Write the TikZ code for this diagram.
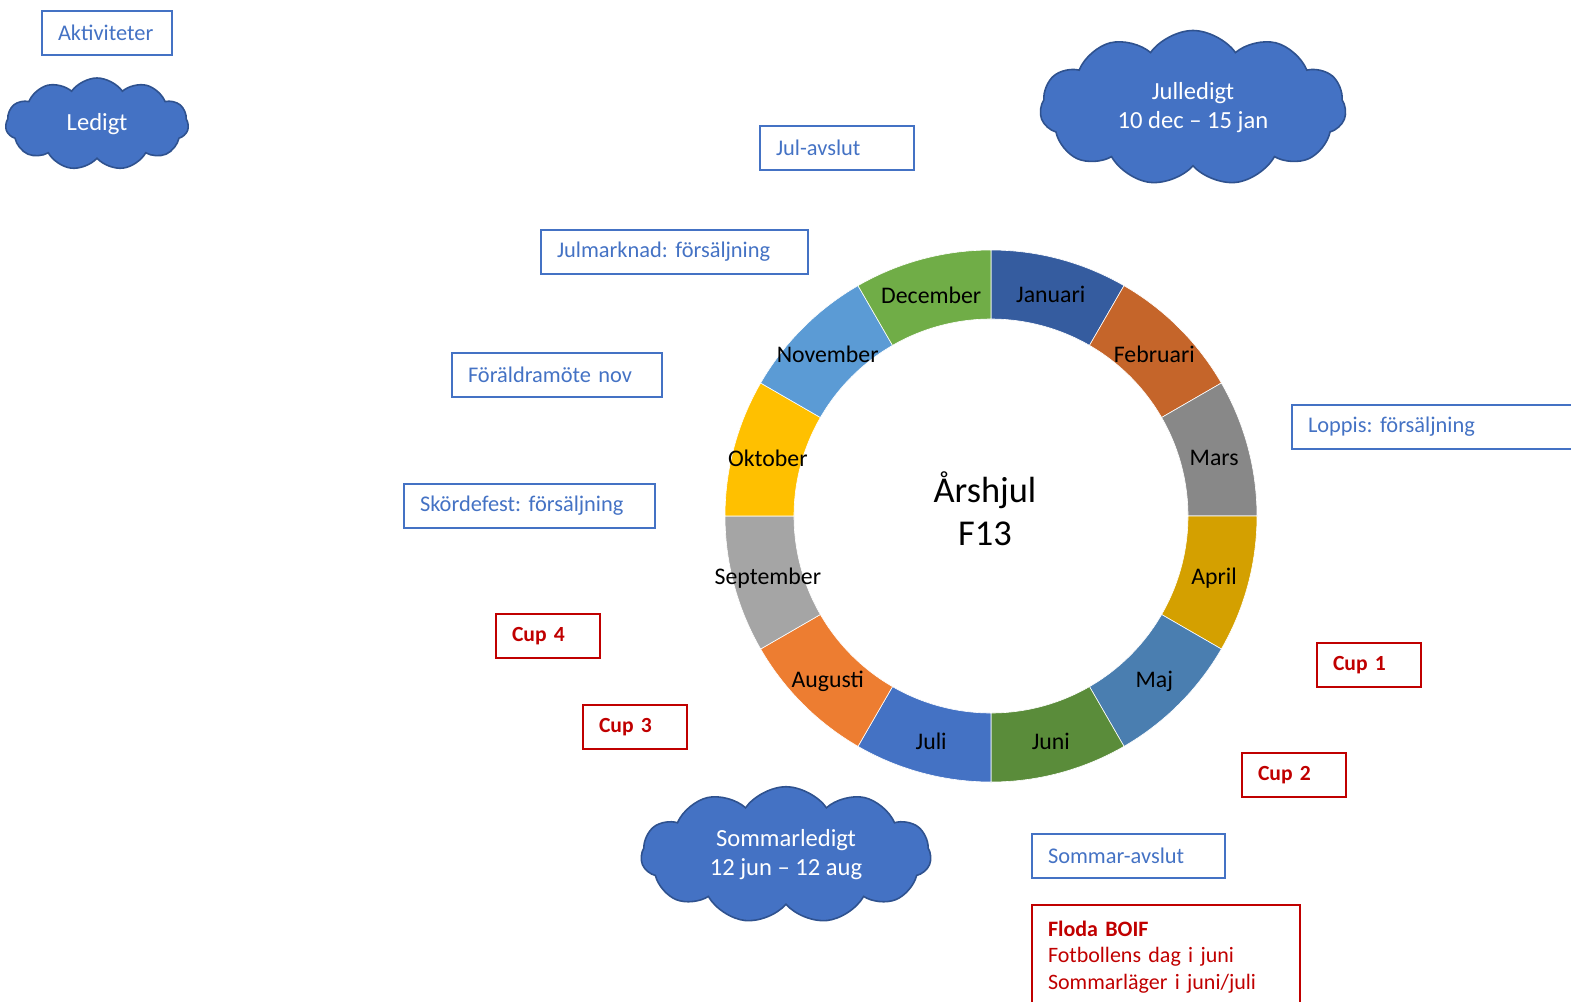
\documentclass[tikz,border=0pt]{standalone}
\usepackage{fontspec}
\setmainfont{Carlito}
\frenchspacing
\usetikzlibrary{shapes.symbols,calc}

\definecolor{offblue}{HTML}{4472C4}
\definecolor{cloudedge}{HTML}{2F528F}
\definecolor{cupred}{HTML}{C00000}
\definecolor{janC}{HTML}{355C9F}
\definecolor{febC}{HTML}{C5652A}
\definecolor{marC}{HTML}{888888}
\definecolor{aprC}{HTML}{D4A000}
\definecolor{majC}{HTML}{4A7EB0}
\definecolor{junC}{HTML}{5A8C3A}
\definecolor{julC}{HTML}{4472C4}
\definecolor{augC}{HTML}{ED7D31}
\definecolor{sepC}{HTML}{A5A5A5}
\definecolor{oktC}{HTML}{FFC000}
\definecolor{novC}{HTML}{5B9BD5}
\definecolor{decC}{HTML}{70AD47}

\tikzset{
  actbox/.style={draw=offblue, line width=1pt, text=offblue, anchor=north west,
    minimum height=22pt, inner xsep=8pt, align=left, font=\fontsize{11.2}{13}\selectfont},
  cupbox/.style={actbox, draw=cupred, text=cupred, font=\fontsize{10.8}{13}\selectfont\bfseries},
  flodabox/.style={actbox, draw=cupred, text=cupred, inner ysep=8pt, font=\fontsize{11}{13.25}\selectfont},
  ledig/.style={cloud, cloud puffs=11, cloud puff arc=110, aspect=2.2, draw=cloudedge,
    line width=0.8pt, fill=offblue, text=white, align=center, font=\fontsize{12.3}{14.5}\selectfont},
  month/.style={font=\fontsize{11.9}{14}\selectfont, text=black}
}

\begin{document}
\begin{tikzpicture}[x=0.5pt, y=-0.5pt]
  \useasboundingbox (0,0) rectangle (1571,1002);
  \clip (0,0) rectangle (1571,1002);
  % Wheel
  \coordinate (c) at (991,516);
  \foreach \col [count=\i] in {janC,febC,marC,aprC,majC,junC,julC,augC,sepC,oktC,novC,decC}{
    \pgfmathsetmacro\aa{90-30*(\i-1)}
    \pgfmathsetmacro\bb{\aa-30}
    \filldraw[fill=\col, draw=white, line width=0.3pt] ($(c)+(\aa:133pt)$) arc[start angle=\aa, end angle=\bb, radius=133pt]
      -- ($(c)+(\bb:98.5pt)$) arc[start angle=\bb, end angle=\aa, radius=98.5pt] -- cycle;
  }
  \foreach \m [count=\i] in {Januari,Februari,Mars,April,Maj,Juni,Juli,Augusti,September,Oktober,November,December}{
    \pgfmathsetmacro\mm{75-30*(\i-1)}
    \node[month] (m\i) at ($(c)+(\mm:115.5pt)+(0,2)$) {\m};
  }
  \node[font=\fontsize{18.2}{21.5}\selectfont, align=center] (title) at (985,509) {Årshjul\\F13};
  % Clouds
  \node[ledig, minimum width=91.5pt, minimum height=46pt] (ledigt) at (97,124) {Ledigt};
  \node[ledig, minimum width=153pt, minimum height=77.5pt] (julledigt) at (1193,108) {Julledigt\\10 dec – 15 jan};
  \node[ledig, minimum width=145pt, minimum height=67pt] (sommarledigt) at (786,855) {Sommarledigt\\12 jun – 12 aug};
  % Activities
  \node[actbox, text width=49pt] (akt) at (41,10) {Aktiviteter};
  \node[actbox, text width=61pt] (julavslut) at (759,125) {Jul-avslut};
  \node[actbox, text width=117.5pt] (julmarknad) at (540,229) {Julmarknad: försäljning};
  \node[actbox, text width=89pt] (foraldra) at (451,352) {Föräldramöte nov};
  \node[actbox, text width=109.5pt] (skordefest) at (403,483) {Skördefest: försäljning};
  \node[actbox, text width=134pt] (loppis) at (1291,404) {Loppis: försäljning};
  \node[actbox, text width=80.5pt] (sommaravslut) at (1031,833) {Sommar-avslut};
  % Cups
  \node[cupbox, text width=36pt] (cup4) at (495,613) {Cup 4};
  \node[cupbox, text width=36pt] (cup3) at (582,704) {Cup 3};
  \node[cupbox, text width=36pt] (cup1) at (1316,642) {Cup 1};
  \node[cupbox, text width=36pt] (cup2) at (1241,752) {Cup 2};
  \node[flodabox, text width=118pt, text depth=40pt] (floda) at (1031,904) {\textbf{Floda BOIF}\\Fotbollens dag i juni\\Sommarläger i juni/juli};
\end{tikzpicture}
\end{document}
